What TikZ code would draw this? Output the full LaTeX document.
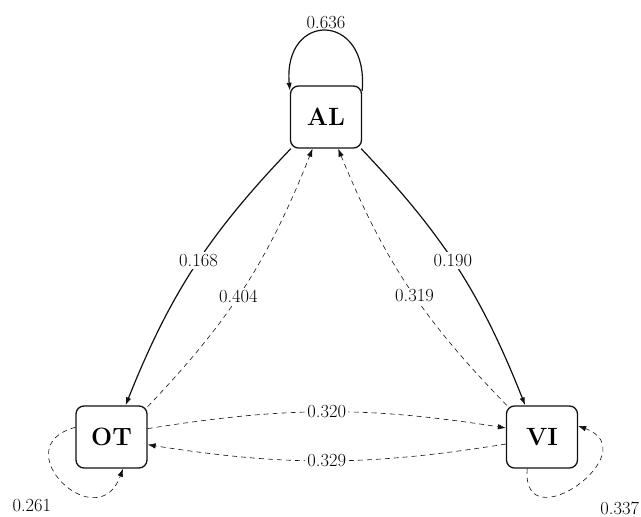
\documentclass[tikz,border=0pt]{standalone}
\usepackage{tikz}
\usetikzlibrary{arrows.meta,positioning}
\definecolor{ink}{HTML}{111111}

\begin{document}
\begin{tikzpicture}[x=1pt,y=1pt]
    \tikzset{
      state/.style={rounded corners=8pt,draw=ink,line width=1.3pt,minimum width=71pt,minimum height=62pt,inner sep=0pt,font=\fontsize{25}{28}\selectfont\bfseries},
      weight/.style={fill=white,inner sep=2pt,font=\fontsize{18.5}{21}\selectfont},
      loopweight/.style={inner sep=2pt,font=\fontsize{18.5}{21}\selectfont},
      solidarrow/.style={-{Latex[length=8pt,width=5.5pt]},draw=ink,line width=1.2pt},
      dasharrow/.style={-{Latex[length=8pt,width=5.5pt]},draw=ink,line width=0.6pt,dash pattern=on 5pt off 4pt}
    }
    \useasboundingbox (0,0) rectangle (641,517);
    \node[state] (AL) at (326,400) {AL};
    \node[state] (OT) at (111.5,80) {OT};
    \node[state] (VI) at (542,80) {VI};
    \draw[solidarrow] (AL.222) to[bend right=11] node[weight,pos=0.47] {0.168} (OT.66);
    \draw[dasharrow] (OT.40) to[bend right=11] node[weight,pos=0.46] {0.404} (AL.247);
    \draw[solidarrow] (AL.318) to[bend left=11] node[weight,pos=0.47] {0.190} (VI.118);
    \draw[dasharrow] (VI.138) to[bend left=11] node[weight,pos=0.46] {0.319} (AL.291);
    \draw[dasharrow] (OT.13) to[bend left=9] node[weight] {0.320} (VI.166);
    \draw[dasharrow] (VI.191) to[bend left=9] node[weight] {0.329} (OT.348);
    % self loops
    \draw[solidarrow] (AL.36) to[out=85,in=95,distance=80pt] node[loopweight,above] {0.636} (AL.144);
    \draw[dasharrow] (OT.165) to[out=195,in=250,distance=75pt] node[loopweight,pos=0.45,below left,xshift=-4pt,yshift=-21pt] {0.261} (OT.290);
    \draw[dasharrow] (VI.245) to[out=265,in=340,distance=75pt] node[loopweight,pos=0.55,below right,xshift=15pt,yshift=-20pt] {0.337} (VI.17);
  \end{tikzpicture}
\end{document}
